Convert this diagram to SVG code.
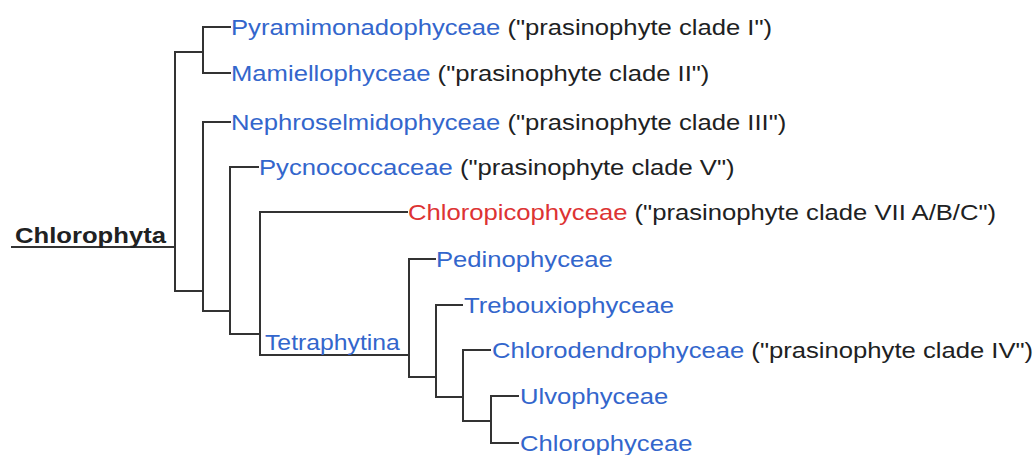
<svg xmlns="http://www.w3.org/2000/svg" width="1035" height="455" viewBox="0 0 1035 455">
<style>
.t{font-family:"Liberation Sans",Arial,sans-serif;font-size:22.5px;fill:#202122}
.b{fill:#3366cc}
.r{fill:#d33}
.bold{font-weight:bold}
.ln{fill:none;stroke:#333;stroke-width:2;stroke-linecap:square}
</style>
<rect width="1035" height="455" fill="#fff"/>
<g id="connectors" class="ln">
<path d="M12,247 H175 M175,52 V291 M175,52 H203 M203,27 V73 M203,27 H230 M203,73 H230"/>
<path d="M175,291 H203 M203,122 V311 M203,122 H230 M203,311 H230"/>
<path d="M230,167 V334 M230,167 H258 M230,334 H260"/>
<path d="M260,212 V355 M260,212 H407 M260,355 H409"/>
<path d="M409,259 V377 M409,259 H435 M409,377 H436"/>
<path d="M436,305 V397 M436,305 H462 M436,397 H463"/>
<path d="M463,350 V421 M463,350 H490 M463,421 H491"/>
<path d="M491,396 V443 M491,396 H518 M491,443 H518"/>
</g>
<g id="chlorophyta"><text class="t bold" transform="translate(15,243) scale(1.14,1)">Chlorophyta</text></g>
<g id="pyramimonadophyceae"><text class="t" transform="translate(231,35) scale(1.14,1)"><tspan class="b">Pyramimonadophyceae</tspan> ("prasinophyte clade I")</text></g>
<g id="mamiellophyceae"><text class="t" transform="translate(231,81) scale(1.14,1)"><tspan class="b">Mamiellophyceae</tspan> ("prasinophyte clade II")</text></g>
<g id="nephroselmidophyceae"><text class="t" transform="translate(231,130) scale(1.14,1)"><tspan class="b">Nephroselmidophyceae</tspan> ("prasinophyte clade III")</text></g>
<g id="pycnococcaceae"><text class="t" transform="translate(259,175) scale(1.14,1)"><tspan class="b">Pycnococcaceae</tspan> ("prasinophyte clade V")</text></g>
<g id="chloropicophyceae"><text class="t" transform="translate(408,220) scale(1.14,1)"><tspan class="r">Chloropicophyceae</tspan> ("prasinophyte clade VII A/B/C")</text></g>
<g id="tetraphytina"><text class="t b" transform="translate(265,350) scale(1.1,1)">Tetraphytina</text></g>
<g id="pedinophyceae"><text class="t b" transform="translate(436,267) scale(1.14,1)">Pedinophyceae</text></g>
<g id="trebouxiophyceae"><text class="t b" transform="translate(464,313) scale(1.14,1)">Trebouxiophyceae</text></g>
<g id="chlorodendrophyceae"><text class="t" transform="translate(492,358) scale(1.14,1)"><tspan class="b">Chlorodendrophyceae</tspan> ("prasinophyte clade IV")</text></g>
<g id="ulvophyceae"><text class="t b" transform="translate(520,404) scale(1.14,1)">Ulvophyceae</text></g>
<g id="chlorophyceae"><text class="t b" transform="translate(520,451) scale(1.14,1)">Chlorophyceae</text></g>
</svg>
